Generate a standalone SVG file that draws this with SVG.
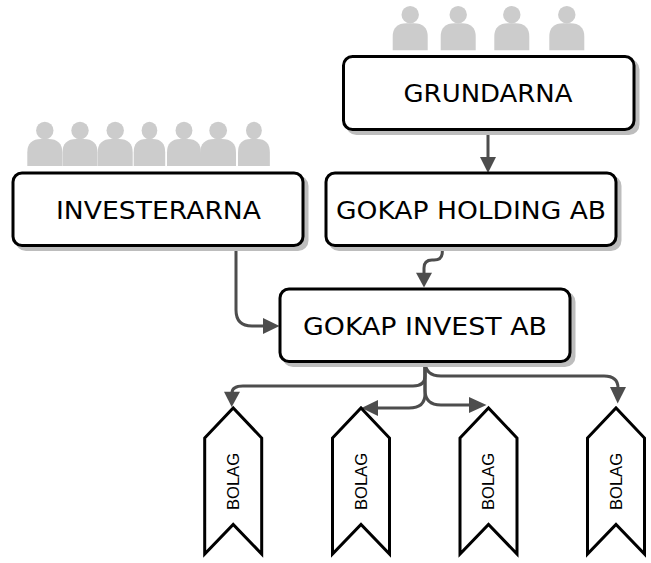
<svg xmlns="http://www.w3.org/2000/svg" width="651" height="563" viewBox="0 0 651 563">
<style>
.box{fill:#fff;stroke:#000;stroke-width:3}
.shadow{fill:#bdbdbd;stroke:#bdbdbd;stroke-width:3}
.t{font-family:"DejaVu Sans","Noto Sans",sans-serif;font-size:24.5px;fill:#000;text-anchor:middle}
.b{font-family:"Liberation Sans",Arial,sans-serif;font-size:16.5px;fill:#000;text-anchor:middle}
.bolag{fill:#fff;stroke:#000;stroke-width:3;stroke-linejoin:miter}
.c{fill:none;stroke:#4d4d4d;stroke-width:3}
.h{fill:#4d4d4d}
.p{fill:#ccc}
</style>
<defs>
<g id="person"><circle cx="17.5" cy="9" r="8.7"/><path d="M0 44.500V31Q0 17.500 14 17.500H21Q35 17.500 35 31V44.500Z"/></g>
<g id="bolag-shape"><path class="bolag" d="M0 30L28.500 0L57 30V146L28.500 116.500L0 146Z"/></g>
</defs>
<g id="people-grundarna" class="p">
<use href="#person" x="392.700" y="5.700"/>
<use href="#person" x="440.700" y="5.700"/>
<use href="#person" x="494.300" y="5.700"/>
<use href="#person" x="549.300" y="5.700"/>
</g>
<g id="people-investerarna" class="p">
<use href="#person" transform="translate(27.300 121.500)"/>
<use href="#person" transform="translate(62.500 121.500)"/>
<use href="#person" transform="translate(97.700 121.500)"/>
<use href="#person" transform="translate(133.700 121.500) scale(.9 1)"/>
<use href="#person" transform="translate(167 121.500) scale(.97 1)"/>
<use href="#person" transform="translate(200.300 121.500) scale(1.02 1)"/>
<use href="#person" transform="translate(238 121.500) scale(.91 1)"/>
</g>
<g id="connectors">
<path class="c" d="M488 129V158"/>
<path class="c" d="M442.300 245V252Q442.300 260 434 260H432Q424 260 424 268V274"/>
<path class="c" d="M236 245V310Q236 326 252 326H264"/>
<path class="c" d="M425 361V376Q425 386 413 386H243Q232 386 232 393"/>
<path class="c" d="M425 361V394Q425 408 409 408H377"/>
<path class="c" d="M425 361V390Q425 405 441 405H470"/>
<path class="c" d="M425 361Q425 376 441 376H604Q618 376 618 388"/>
<path class="h" d="M480 157H496L488 173Z"/>
<path class="h" d="M416 272.700H432L424 287.500Z"/>
<path class="h" d="M263 318L279.500 326L263 334Z"/>
<path class="h" d="M224 391.700H240L231.700 407Z"/>
<path class="h" d="M378 400V416L361.500 408Z"/>
<path class="h" d="M469 397V413L486.500 405Z"/>
<path class="h" d="M610 387H626L617.700 403.500Z"/>
</g>
<g id="grundarna">
<rect class="shadow" x="347.500" y="60.500" width="290.500" height="73" rx="9"/>
<rect class="box" x="343.500" y="56.500" width="290.500" height="73" rx="9"/>
<text class="t" x="488" y="102" textLength="169" lengthAdjust="spacingAndGlyphs">GRUNDARNA</text>
</g>
<g id="investerarna">
<rect class="shadow" x="17" y="177" width="290" height="72.500" rx="9"/>
<rect class="box" x="13" y="173" width="290" height="72.500" rx="9"/>
<text class="t" x="158.500" y="219" textLength="205" lengthAdjust="spacingAndGlyphs">INVESTERARNA</text>
</g>
<g id="gokap-holding">
<rect class="shadow" x="330" y="177" width="290" height="72.500" rx="9"/>
<rect class="box" x="326" y="173" width="290" height="72.500" rx="9"/>
<text class="t" x="471" y="219" textLength="270" lengthAdjust="spacingAndGlyphs">GOKAP HOLDING AB</text>
</g>
<g id="gokap-invest">
<rect class="shadow" x="284" y="293" width="290" height="72.500" rx="9"/>
<rect class="box" x="280" y="289" width="290" height="72.500" rx="9"/>
<text class="t" x="425" y="335" textLength="244" lengthAdjust="spacingAndGlyphs">GOKAP INVEST AB</text>
</g>
<g id="bolag-1"><use href="#bolag-shape" x="204.700" y="408"/><text class="b" transform="translate(239 481.500) rotate(-90)" textLength="57" lengthAdjust="spacingAndGlyphs">BOLAG</text></g>
<g id="bolag-2"><use href="#bolag-shape" x="332.500" y="408"/><text class="b" transform="translate(366.700 481.500) rotate(-90)" textLength="57" lengthAdjust="spacingAndGlyphs">BOLAG</text></g>
<g id="bolag-3"><use href="#bolag-shape" x="460" y="408"/><text class="b" transform="translate(494 481.500) rotate(-90)" textLength="57" lengthAdjust="spacingAndGlyphs">BOLAG</text></g>
<g id="bolag-4"><use href="#bolag-shape" x="587.500" y="408"/><text class="b" transform="translate(621.500 481.500) rotate(-90)" textLength="57" lengthAdjust="spacingAndGlyphs">BOLAG</text></g>
</svg>
